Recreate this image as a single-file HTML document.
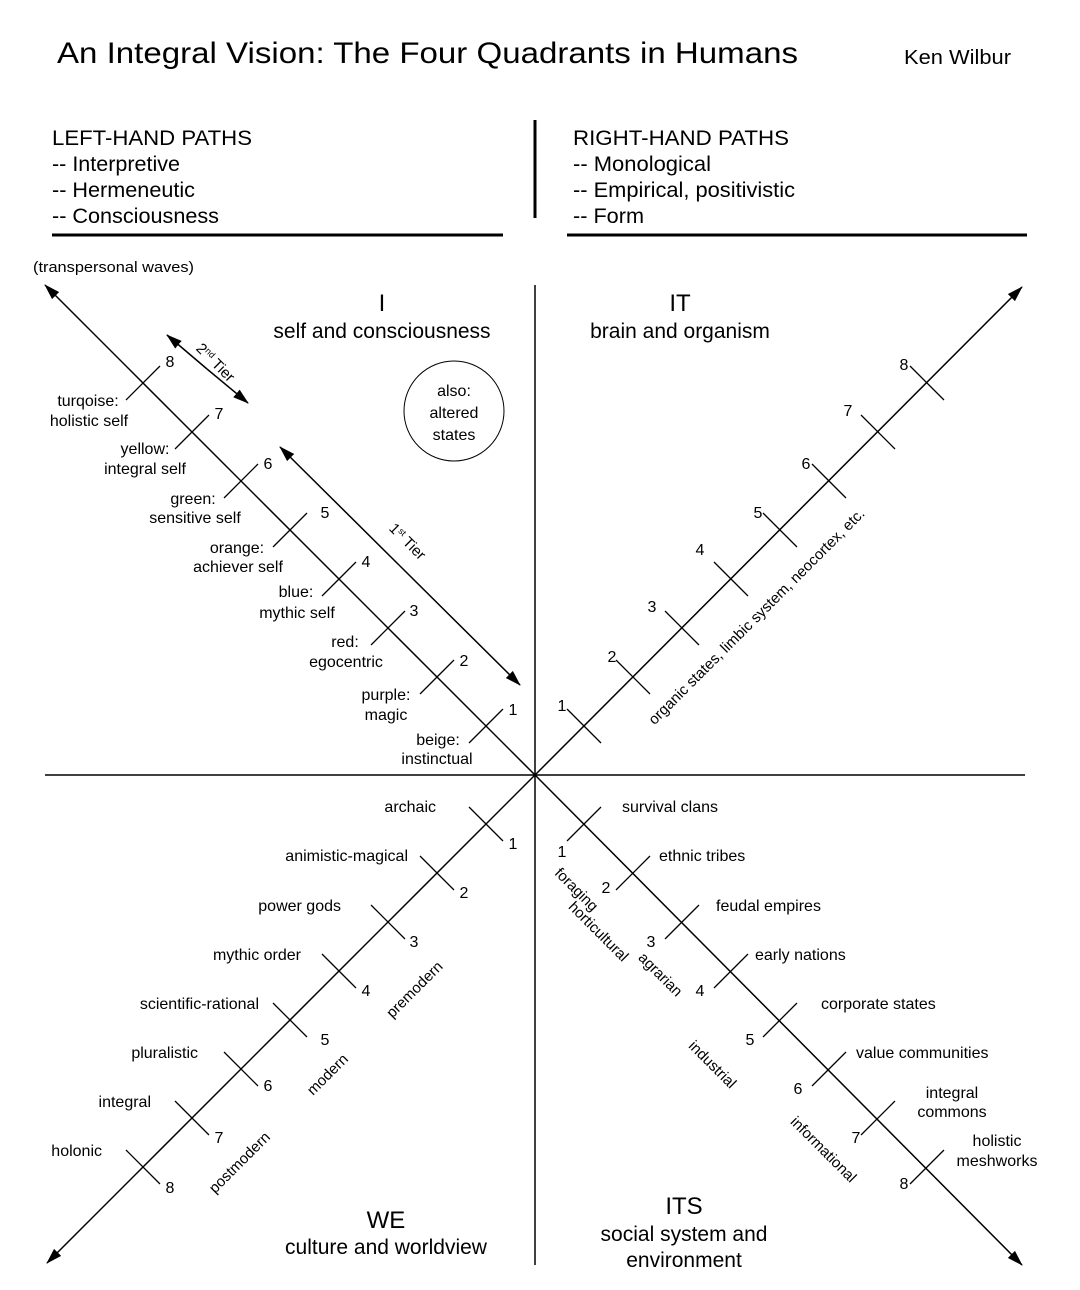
<!DOCTYPE html>
<html><head><meta charset="utf-8"><style>
html,body{margin:0;padding:0;background:#fff;}
svg{display:block;font-family:"Liberation Sans",Arial,sans-serif;}
</style></head><body>
<svg width="1080" height="1290" viewBox="0 0 1080 1290" xmlns="http://www.w3.org/2000/svg">
<defs>
<marker id="ah" markerWidth="16" markerHeight="10" refX="15" refY="5" orient="auto" markerUnits="userSpaceOnUse" viewBox="0 0 16 10">
<path d="M0,0 L16,5 L0,10 Z" fill="#000"/></marker>
</defs>
<g fill="#000">
<text x="57" y="63" font-size="30" textLength="741" lengthAdjust="spacingAndGlyphs">An Integral Vision:  The Four Quadrants in Humans</text>
<text x="904" y="64" font-size="20" textLength="107" lengthAdjust="spacingAndGlyphs">Ken Wilbur</text>
<g font-size="21">
<text x="52" y="145" textLength="200" lengthAdjust="spacingAndGlyphs">LEFT-HAND PATHS</text>
<text x="52" y="171" textLength="128" lengthAdjust="spacingAndGlyphs">-- Interpretive</text>
<text x="52" y="197" textLength="143" lengthAdjust="spacingAndGlyphs">-- Hermeneutic</text>
<text x="52" y="223" textLength="167" lengthAdjust="spacingAndGlyphs">-- Consciousness</text>
<text x="573" y="145" textLength="216" lengthAdjust="spacingAndGlyphs">RIGHT-HAND PATHS</text>
<text x="573" y="171" textLength="138" lengthAdjust="spacingAndGlyphs">-- Monological</text>
<text x="573" y="197" textLength="222" lengthAdjust="spacingAndGlyphs">-- Empirical, positivistic</text>
<text x="573" y="223" textLength="71" lengthAdjust="spacingAndGlyphs">-- Form</text>
</g>
<text x="33" y="272" font-size="15" textLength="161" lengthAdjust="spacingAndGlyphs">(transpersonal waves)</text>
</g>
<g stroke="#000" fill="none">
<line x1="52" y1="235" x2="503" y2="235" stroke-width="3"/>
<line x1="567" y1="235" x2="1027" y2="235" stroke-width="3"/>
<line x1="535" y1="120" x2="535" y2="218" stroke-width="3"/>
<line x1="45" y1="775" x2="1025" y2="775" stroke-width="1.5"/>
<line x1="535" y1="285" x2="535" y2="1265" stroke-width="1.5"/>
<line x1="535" y1="775" x2="45" y2="285" stroke-width="1.5" marker-end="url(#ah)"/>
<line x1="535" y1="775" x2="1022" y2="287" stroke-width="1.5" marker-end="url(#ah)"/>
<line x1="535" y1="775" x2="47" y2="1263" stroke-width="1.5" marker-end="url(#ah)"/>
<line x1="535" y1="775" x2="1022" y2="1265" stroke-width="1.5" marker-end="url(#ah)"/>
<line x1="207" y1="369" x2="167" y2="335" stroke-width="1.5" marker-end="url(#ah)"/>
<line x1="207" y1="369" x2="248" y2="403" stroke-width="1.5" marker-end="url(#ah)"/>
<line x1="400" y1="566" x2="280" y2="447" stroke-width="1.5" marker-end="url(#ah)"/>
<line x1="400" y1="566" x2="520" y2="685" stroke-width="1.5" marker-end="url(#ah)"/>
<circle cx="454" cy="411" r="50" stroke-width="1"/>
<path stroke-width="1.3" d="
M469,743 L503,709 M420,694 L454,660 M371,645 L405,611 M322,596 L356,562 M273,547 L307,513 M224,498 L258,464 M175,449 L209,415 M126,400 L160,366
M567,841 L601,807 M616,890 L650,856 M665,939 L699,905 M714,988 L748,954 M763,1037 L797,1003 M812,1086 L846,1052 M861,1135 L895,1101 M910,1184 L944,1150
M567,709 L601,743 M616,660 L650,694 M665,611 L699,645 M714,562 L748,596 M763,513 L797,547 M812,464 L846,498 M861,415 L895,449 M910,366 L944,400
M469,807 L503,841 M420,856 L454,890 M371,905 L405,939 M322,954 L356,988 M273,1003 L307,1037 M224,1052 L258,1086 M175,1101 L209,1135 M126,1150 L160,1184
"/>
</g>
<g fill="#000" font-size="16" text-anchor="middle">
<text x="382" y="311" font-size="24">I</text>
<text x="382" y="338" font-size="21">self and consciousness</text>
<text x="680" y="311" font-size="24">IT</text>
<text x="680" y="338" font-size="21">brain and organism</text>
<text x="386" y="1228" font-size="24">WE</text>
<text x="386" y="1254" font-size="21">culture and worldview</text>
<text x="684" y="1214" font-size="24">ITS</text>
<text x="684" y="1241" font-size="21">social system and</text>
<text x="684" y="1267" font-size="21">environment</text>
<text x="454" y="396">also:</text>
<text x="454" y="418">altered</text>
<text x="454" y="440">states</text>
<text x="170" y="367">8</text><text x="219" y="419">7</text><text x="268" y="469">6</text><text x="325" y="518">5</text>
<text x="366" y="567">4</text><text x="414" y="616">3</text><text x="464" y="666">2</text><text x="513" y="715">1</text>
<text x="88" y="406">turqoise:</text><text x="89" y="426">holistic self</text>
<text x="145" y="454">yellow:</text><text x="145" y="474">integral self</text>
<text x="193" y="504">green:</text><text x="195" y="523">sensitive self</text>
<text x="237" y="553">orange:</text><text x="238" y="572">achiever self</text>
<text x="296" y="597">blue:</text><text x="297" y="618">mythic self</text>
<text x="345" y="647">red:</text><text x="346" y="667">egocentric</text>
<text x="386" y="700">purple:</text><text x="386" y="720">magic</text>
<text x="438" y="745">beige:</text><text x="437" y="764">instinctual</text>
<text x="562" y="711">1</text><text x="612" y="662">2</text><text x="652" y="612">3</text><text x="700" y="555">4</text>
<text x="758" y="518">5</text><text x="806" y="469">6</text><text x="848" y="416">7</text><text x="904" y="370">8</text>
<text x="513" y="849">1</text><text x="464" y="898">2</text><text x="414" y="947">3</text><text x="366" y="996">4</text>
<text x="325" y="1045">5</text><text x="268" y="1091">6</text><text x="219" y="1143">7</text><text x="170" y="1193">8</text>
<text x="562" y="857">1</text><text x="606" y="893">2</text><text x="651" y="947">3</text><text x="700" y="996">4</text>
<text x="750" y="1045">5</text><text x="798" y="1094">6</text><text x="856" y="1143">7</text><text x="904" y="1189">8</text>
<text x="952" y="1098">integral</text><text x="952" y="1117">commons</text>
<text x="997" y="1146">holistic</text><text x="997" y="1166">meshworks</text>
</g>
<g fill="#000" font-size="16" text-anchor="end">
<text x="436" y="812">archaic</text>
<text x="408" y="861">animistic-magical</text>
<text x="341" y="911">power gods</text>
<text x="301" y="960">mythic order</text>
<text x="259" y="1009">scientific-rational</text>
<text x="198" y="1058">pluralistic</text>
<text x="151" y="1107">integral</text>
<text x="102" y="1156">holonic</text>
</g>
<g fill="#000" font-size="16">
<text x="622" y="812">survival clans</text>
<text x="659" y="861">ethnic tribes</text>
<text x="716" y="911">feudal empires</text>
<text x="755" y="960">early nations</text>
<text x="821" y="1009">corporate states</text>
<text x="856" y="1058">value communities</text>
</g>
<g fill="#000" font-size="15" text-anchor="middle">
<text transform="translate(760,620) rotate(-45)">organic states, limbic system, neocortex, etc.</text>
<text transform="translate(418,993) rotate(-45)">premodern</text>
<text transform="translate(331,1078) rotate(-45)">modern</text>
<text transform="translate(243,1166) rotate(-45)">postmodern</text>
<text transform="translate(573,893) rotate(45)">foraging</text>
<text transform="translate(595,935) rotate(45)">horticultural</text>
<text transform="translate(657,978) rotate(45)">agrarian</text>
<text transform="translate(709,1068) rotate(45)">industrial</text>
<text transform="translate(820,1153) rotate(45)">informational</text>
<text transform="translate(212,366) rotate(45)" font-size="15">2<tspan font-size="9" dy="-5">nd</tspan><tspan dy="5"> Tier</tspan></text>
<text transform="translate(404,545) rotate(45)" font-size="15">1<tspan font-size="9" dy="-5">st</tspan><tspan dy="5"> Tier</tspan></text>
</g>
</svg>
</body></html>
